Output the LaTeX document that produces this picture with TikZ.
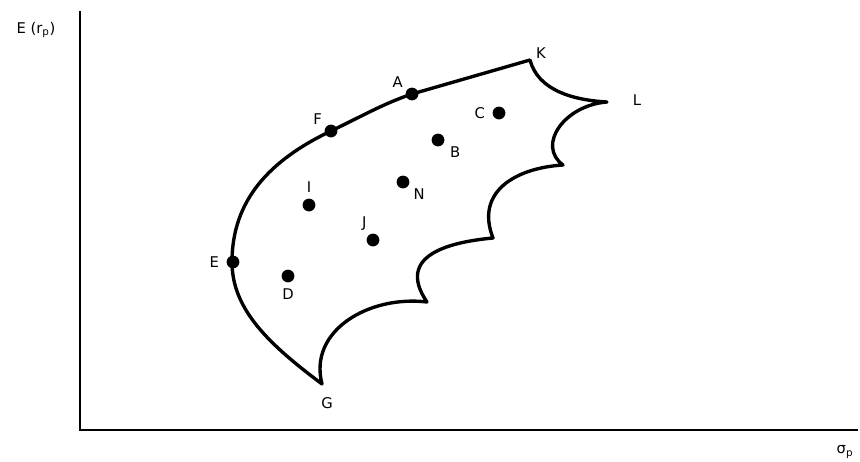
\documentclass[tikz,border=0pt]{standalone}
\usepackage{fontspec}
\setmainfont{DejaVu Sans}
\usetikzlibrary{positioning}

\begin{document}
\begin{tikzpicture}[
    x=0.25mm, y=-0.25mm,
    pt/.style={circle, fill, inner sep=0pt, minimum size=3.2mm},
    lbl/.style={font=\fontsize{10.5}{12}\selectfont, inner sep=1pt},
    outline/.style={line width=2.4pt, line join=round},
    axis/.style={line width=0.9pt}
]
    \useasboundingbox (0,0) rectangle (860,461);

    % axes
    \coordinate (origin) at (80,430);
    \coordinate (ytop)   at (80,11);
    \coordinate (xend)   at (858,430);
    \draw[axis] (ytop) -- (origin) -- (xend);
    \node[lbl] (ylab) at (36,30)  {E (r\textsubscript{p})};
    \node[lbl] (xlab) at (845,452) {σ\textsubscript{p}};

    % feasible set, scalloped on the right
    \draw[outline] (530,60)
        .. controls (538,90) and (572,100) .. (607,102)
        .. controls (565,105) and (536,145) .. (563,165)
        .. controls (515,168) and (475,192) .. (493,238)
        .. controls (450,242) and (395,255) .. (427,302)
        .. controls (370,295) and (308,330) .. (322,384)
        .. controls (270,345) and (232,310) .. (232,262)
        .. controls (232,200) and (270,160) .. (331,131)
        .. controls (362,116) and (385,103) .. (412,94)
        -- cycle;

    % portfolios
    \node[pt] (a) at (412,94)  {};
    \node[pt] (f) at (331,131) {};
    \node[pt] (e) at (233,262) {};
    \node[pt] (c) at (499,113) {};
    \node[pt] (b) at (438,140) {};
    \node[pt] (n) at (403,182) {};
    \node[pt] (i) at (309,205) {};
    \node[pt] (j) at (373,240) {};
    \node[pt] (d) at (288,276) {};

    \node[lbl, above left=0pt and 2pt of a] {A};
    \node[lbl, above left=0pt and 2pt of f] {F};
    \node[lbl, left=4pt of e]               {E};
    \node[lbl, left=4pt of c]               {C};
    \node[lbl, below right=0pt and 4pt of b] {B};
    \node[lbl, below right=0pt and 3pt of n] {N};
    \node[lbl, above=3pt of i]              {I};
    \node[lbl, above left=2pt and 0pt of j] {J};
    \node[lbl, below=3pt of d]              {D};

    % corner labels
    \node[lbl] (g) at (327,403) {G};
    \node[lbl] (k) at (541,53)  {K};
    \node[lbl] (l) at (637,100) {L};
\end{tikzpicture}
\end{document}
